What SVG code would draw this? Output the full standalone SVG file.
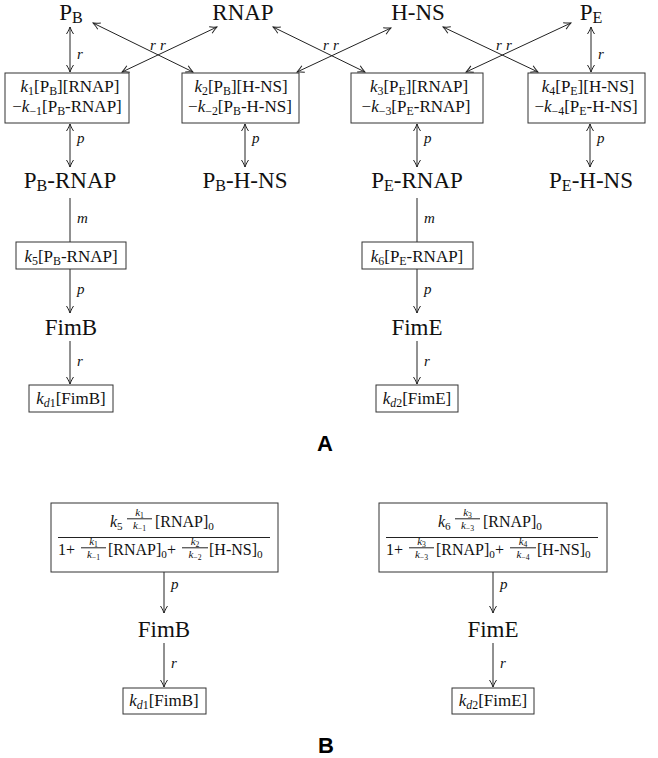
<svg xmlns="http://www.w3.org/2000/svg" width="658" height="758" viewBox="0 0 658 758">
<defs>
<marker id="ah" viewBox="-8 -5 9 10" refX="0" refY="0" markerWidth="9" markerHeight="10" markerUnits="userSpaceOnUse" orient="auto-start-reverse">
<path d="M-7,-3.5 C-4,-1.5 -1,-0.4 0,0 C-1,0.4 -4,1.5 -7,3.5" fill="none" stroke="#222" stroke-width="1"/>
</marker>
<style>
.t, .t text { font-family: 'Liberation Serif', 'DejaVu Serif', serif; fill: #111; }
.lbl { font-size: 23px; }
.bx { font-size: 17px; }
.el { font-size: 15px; font-style: italic; }
.it { font-style: italic; }
.s { font-size: 70%; }
.fr { font-size: 16px; }
.sm { font-size: 11px; }
.edge { stroke: #222; stroke-width: 1; fill: none; }
.dbl { marker-start: url(#ah); marker-end: url(#ah); }
.one { marker-end: url(#ah); }
.box { fill: #fff; stroke: #333; stroke-width: 1; }
.bar { stroke: #222; stroke-width: 1; }
.panel { font-family: 'Liberation Sans', Arial, sans-serif; font-weight: bold; font-size: 22px; fill: #000; }
</style>
</defs>
<rect width="658" height="758" fill="#fff"/>

<g id="connectors" class="t" font-family="Liberation Serif, serif">
<path class="edge dbl" d="M70,27 L70,72"/>
<path class="edge dbl" d="M591,27 L591,72"/>
<path class="edge dbl" d="M93,23 L193,72"/>
<path class="edge dbl" d="M217,27 L122,72"/>
<path class="edge dbl" d="M273,27 L365,72"/>
<path class="edge dbl" d="M391,28 L297,72"/>
<path class="edge dbl" d="M443,27 L538,72"/>
<path class="edge dbl" d="M571,23 L466,72"/>
<path class="edge dbl" d="M70,124 L70,167"/>
<path class="edge dbl" d="M245,124 L245,167"/>
<path class="edge dbl" d="M417,124 L417,167"/>
<path class="edge dbl" d="M590,124 L590,167"/>
<path class="edge" d="M70,198 L70,242"/>
<path class="edge" d="M417,198 L417,242"/>
<path class="edge one" d="M70,269 L70,313"/>
<path class="edge one" d="M417,269 L417,313"/>
<path class="edge one" d="M70,341 L70,384"/>
<path class="edge one" d="M417,341 L417,384"/>
<path class="edge one" d="M164,572 L164,613"/>
<path class="edge one" d="M493,572 L493,613"/>
<path class="edge one" d="M164,643 L164,687"/>
<path class="edge one" d="M493,643 L493,687"/>
<text class="el" x="77" y="59">r</text>
<text class="el" x="598" y="59">r</text>
<text class="el" x="150" y="50">r</text>
<text class="el" x="160" y="50">r</text>
<text class="el" x="323" y="50">r</text>
<text class="el" x="333" y="50">r</text>
<text class="el" x="496" y="50">r</text>
<text class="el" x="506" y="50">r</text>
<text class="el" x="77" y="143">p</text>
<text class="el" x="252" y="143">p</text>
<text class="el" x="424" y="143">p</text>
<text class="el" x="597" y="143">p</text>
<text class="el" x="77" y="223">m</text>
<text class="el" x="424" y="223">m</text>
<text class="el" x="77" y="294">p</text>
<text class="el" x="424" y="294">p</text>
<text class="el" x="77" y="366">r</text>
<text class="el" x="424" y="366">r</text>
<text class="el" x="171" y="589">p</text>
<text class="el" x="500" y="589">p</text>
<text class="el" x="171" y="668">r</text>
<text class="el" x="500" y="668">r</text>
</g>

<g class="t" font-family="Liberation Serif, serif">
<g id="PB"><text class="lbl" x="71" y="20" text-anchor="middle">P<tspan class="s" dy="3">B</tspan></text></g>
<g id="RNAP"><text class="lbl" x="243" y="20" text-anchor="middle">RNAP</text></g>
<g id="HNS"><text class="lbl" x="418" y="20" text-anchor="middle">H-NS</text></g>
<g id="PE"><text class="lbl" x="591" y="20" text-anchor="middle">P<tspan class="s" dy="3">E</tspan></text></g>

<g id="box1">
<rect class="box" x="5" y="73" width="124" height="50"/>
<text class="bx" x="70" y="92" text-anchor="middle"><tspan class="it">k</tspan><tspan class="s" dy="3">1</tspan><tspan dy="-3">[P</tspan><tspan class="s" dy="3">B</tspan><tspan dy="-3">][RNAP]</tspan></text>
<text class="bx" x="67" y="112" text-anchor="middle">−<tspan class="it">k</tspan><tspan class="s" dy="3">−1</tspan><tspan dy="-3">[P</tspan><tspan class="s" dy="3">B</tspan><tspan dy="-3">-RNAP]</tspan></text>
</g>
<g id="box2">
<rect class="box" x="182" y="73" width="117" height="50"/>
<text class="bx" x="241" y="92" text-anchor="middle"><tspan class="it">k</tspan><tspan class="s" dy="3">2</tspan><tspan dy="-3">[P</tspan><tspan class="s" dy="3">B</tspan><tspan dy="-3">][H-NS]</tspan></text>
<text class="bx" x="240" y="112" text-anchor="middle">−<tspan class="it">k</tspan><tspan class="s" dy="3">−2</tspan><tspan dy="-3">[P</tspan><tspan class="s" dy="3">B</tspan><tspan dy="-3">-H-NS]</tspan></text>
</g>
<g id="box3">
<rect class="box" x="351" y="73" width="132" height="50"/>
<text class="bx" x="419" y="92" text-anchor="middle"><tspan class="it">k</tspan><tspan class="s" dy="3">3</tspan><tspan dy="-3">[P</tspan><tspan class="s" dy="3">E</tspan><tspan dy="-3">][RNAP]</tspan></text>
<text class="bx" x="416" y="112" text-anchor="middle">−<tspan class="it">k</tspan><tspan class="s" dy="3">−3</tspan><tspan dy="-3">[P</tspan><tspan class="s" dy="3">E</tspan><tspan dy="-3">-RNAP]</tspan></text>
</g>
<g id="box4">
<rect class="box" x="528" y="73" width="117" height="50"/>
<text class="bx" x="588" y="92" text-anchor="middle"><tspan class="it">k</tspan><tspan class="s" dy="3">4</tspan><tspan dy="-3">[P</tspan><tspan class="s" dy="3">E</tspan><tspan dy="-3">][H-NS]</tspan></text>
<text class="bx" x="586" y="112" text-anchor="middle">−<tspan class="it">k</tspan><tspan class="s" dy="3">−4</tspan><tspan dy="-3">[P</tspan><tspan class="s" dy="3">E</tspan><tspan dy="-3">-H-NS]</tspan></text>
</g>

<g id="PB-RNAP"><text class="lbl" x="70" y="188" text-anchor="middle">P<tspan class="s" dy="3">B</tspan><tspan dy="-3">-RNAP</tspan></text></g>
<g id="PB-HNS"><text class="lbl" x="245" y="188" text-anchor="middle">P<tspan class="s" dy="3">B</tspan><tspan dy="-3">-H-NS</tspan></text></g>
<g id="PE-RNAP"><text class="lbl" x="417" y="188" text-anchor="middle">P<tspan class="s" dy="3">E</tspan><tspan dy="-3">-RNAP</tspan></text></g>
<g id="PE-HNS"><text class="lbl" x="591" y="188" text-anchor="middle">P<tspan class="s" dy="3">E</tspan><tspan dy="-3">-H-NS</tspan></text></g>

<g id="box5">
<rect class="box" x="16" y="242" width="110" height="27"/>
<text class="bx" x="71" y="262" text-anchor="middle"><tspan class="it">k</tspan><tspan class="s" dy="3">5</tspan><tspan dy="-3">[P</tspan><tspan class="s" dy="3">B</tspan><tspan dy="-3">-RNAP]</tspan></text>
</g>
<g id="box6">
<rect class="box" x="362" y="242" width="111" height="27"/>
<text class="bx" x="417" y="262" text-anchor="middle"><tspan class="it">k</tspan><tspan class="s" dy="3">6</tspan><tspan dy="-3">[P</tspan><tspan class="s" dy="3">E</tspan><tspan dy="-3">-RNAP]</tspan></text>
</g>

<g id="FimB-A"><text class="lbl" x="71" y="335" text-anchor="middle">FimB</text></g>
<g id="FimE-A"><text class="lbl" x="417" y="335" text-anchor="middle">FimE</text></g>

<g id="kd1-A">
<rect class="box" x="29" y="385" width="84" height="27"/>
<text class="bx" x="71" y="404" text-anchor="middle"><tspan class="it">k</tspan><tspan class="s it" dy="3">d</tspan><tspan class="s">1</tspan><tspan dy="-3">[FimB]</tspan></text>
</g>
<g id="kd2-A">
<rect class="box" x="376" y="385" width="82" height="27"/>
<text class="bx" x="417" y="404" text-anchor="middle"><tspan class="it">k</tspan><tspan class="s it" dy="3">d</tspan><tspan class="s">2</tspan><tspan dy="-3">[FimE]</tspan></text>
</g>

<g id="rateB">
<rect class="box" x="51" y="503" width="227" height="69"/>
<line class="bar" x1="58" y1="537.5" x2="270" y2="537.5"/>
<text class="fr" x="110" y="527"><tspan class="it">k</tspan><tspan class="s" dy="3">5</tspan></text>
<text class="sm" x="139.5" y="516" text-anchor="middle"><tspan class="it">k</tspan><tspan class="s" dy="2">1</tspan></text>
<line class="bar" x1="127" y1="518.8" x2="152" y2="518.8" stroke-width="0.8"/>
<text class="sm" x="139.5" y="529" text-anchor="middle"><tspan class="it">k</tspan><tspan class="s" dy="2">−1</tspan></text>
<text class="fr" x="155" y="527">[RNAP]<tspan class="s" dy="3">0</tspan></text>
<text class="fr" x="58" y="555">1+</text>
<text class="sm" x="93.5" y="545" text-anchor="middle"><tspan class="it">k</tspan><tspan class="s" dy="2">1</tspan></text>
<line class="bar" x1="81" y1="547.8" x2="106" y2="547.8" stroke-width="0.8"/>
<text class="sm" x="93.5" y="558" text-anchor="middle"><tspan class="it">k</tspan><tspan class="s" dy="2">−1</tspan></text>
<text class="fr" x="108" y="555">[RNAP]<tspan class="s" dy="3">0</tspan><tspan dy="-3">+</tspan></text>
<text class="sm" x="195" y="545" text-anchor="middle"><tspan class="it">k</tspan><tspan class="s" dy="2">2</tspan></text>
<line class="bar" x1="182" y1="547.8" x2="208" y2="547.8" stroke-width="0.8"/>
<text class="sm" x="195" y="558" text-anchor="middle"><tspan class="it">k</tspan><tspan class="s" dy="2">−2</tspan></text>
<text class="fr" x="209" y="555">[H-NS]<tspan class="s" dy="3">0</tspan></text>
</g>

<g id="rateE">
<rect class="box" x="379" y="503" width="228" height="69"/>
<line class="bar" x1="386" y1="537.5" x2="598" y2="537.5"/>
<text class="fr" x="438" y="527"><tspan class="it">k</tspan><tspan class="s" dy="3">6</tspan></text>
<text class="sm" x="467.5" y="516" text-anchor="middle"><tspan class="it">k</tspan><tspan class="s" dy="2">3</tspan></text>
<line class="bar" x1="455" y1="518.8" x2="480" y2="518.8" stroke-width="0.8"/>
<text class="sm" x="467.5" y="529" text-anchor="middle"><tspan class="it">k</tspan><tspan class="s" dy="2">−3</tspan></text>
<text class="fr" x="483" y="527">[RNAP]<tspan class="s" dy="3">0</tspan></text>
<text class="fr" x="386" y="555">1+</text>
<text class="sm" x="421.5" y="545" text-anchor="middle"><tspan class="it">k</tspan><tspan class="s" dy="2">3</tspan></text>
<line class="bar" x1="409" y1="547.8" x2="434" y2="547.8" stroke-width="0.8"/>
<text class="sm" x="421.5" y="558" text-anchor="middle"><tspan class="it">k</tspan><tspan class="s" dy="2">−3</tspan></text>
<text class="fr" x="436" y="555">[RNAP]<tspan class="s" dy="3">0</tspan><tspan dy="-3">+</tspan></text>
<text class="sm" x="523" y="545" text-anchor="middle"><tspan class="it">k</tspan><tspan class="s" dy="2">4</tspan></text>
<line class="bar" x1="510" y1="547.8" x2="536" y2="547.8" stroke-width="0.8"/>
<text class="sm" x="523" y="558" text-anchor="middle"><tspan class="it">k</tspan><tspan class="s" dy="2">−4</tspan></text>
<text class="fr" x="537" y="555">[H-NS]<tspan class="s" dy="3">0</tspan></text>
</g>

<g id="FimB-B"><text class="lbl" x="164" y="637" text-anchor="middle">FimB</text></g>
<g id="FimE-B"><text class="lbl" x="493" y="637" text-anchor="middle">FimE</text></g>

<g id="kd1-B">
<rect class="box" x="123" y="688" width="83" height="26"/>
<text class="bx" x="164" y="706" text-anchor="middle"><tspan class="it">k</tspan><tspan class="s it" dy="3">d</tspan><tspan class="s">1</tspan><tspan dy="-3">[FimB]</tspan></text>
</g>
<g id="kd2-B">
<rect class="box" x="452" y="688" width="82" height="26"/>
<text class="bx" x="493" y="706" text-anchor="middle"><tspan class="it">k</tspan><tspan class="s it" dy="3">d</tspan><tspan class="s">2</tspan><tspan dy="-3">[FimE]</tspan></text>
</g>
</g>

<text class="panel" x="325" y="451" text-anchor="middle">A</text>
<text class="panel" x="326" y="753" text-anchor="middle">B</text>
</svg>
